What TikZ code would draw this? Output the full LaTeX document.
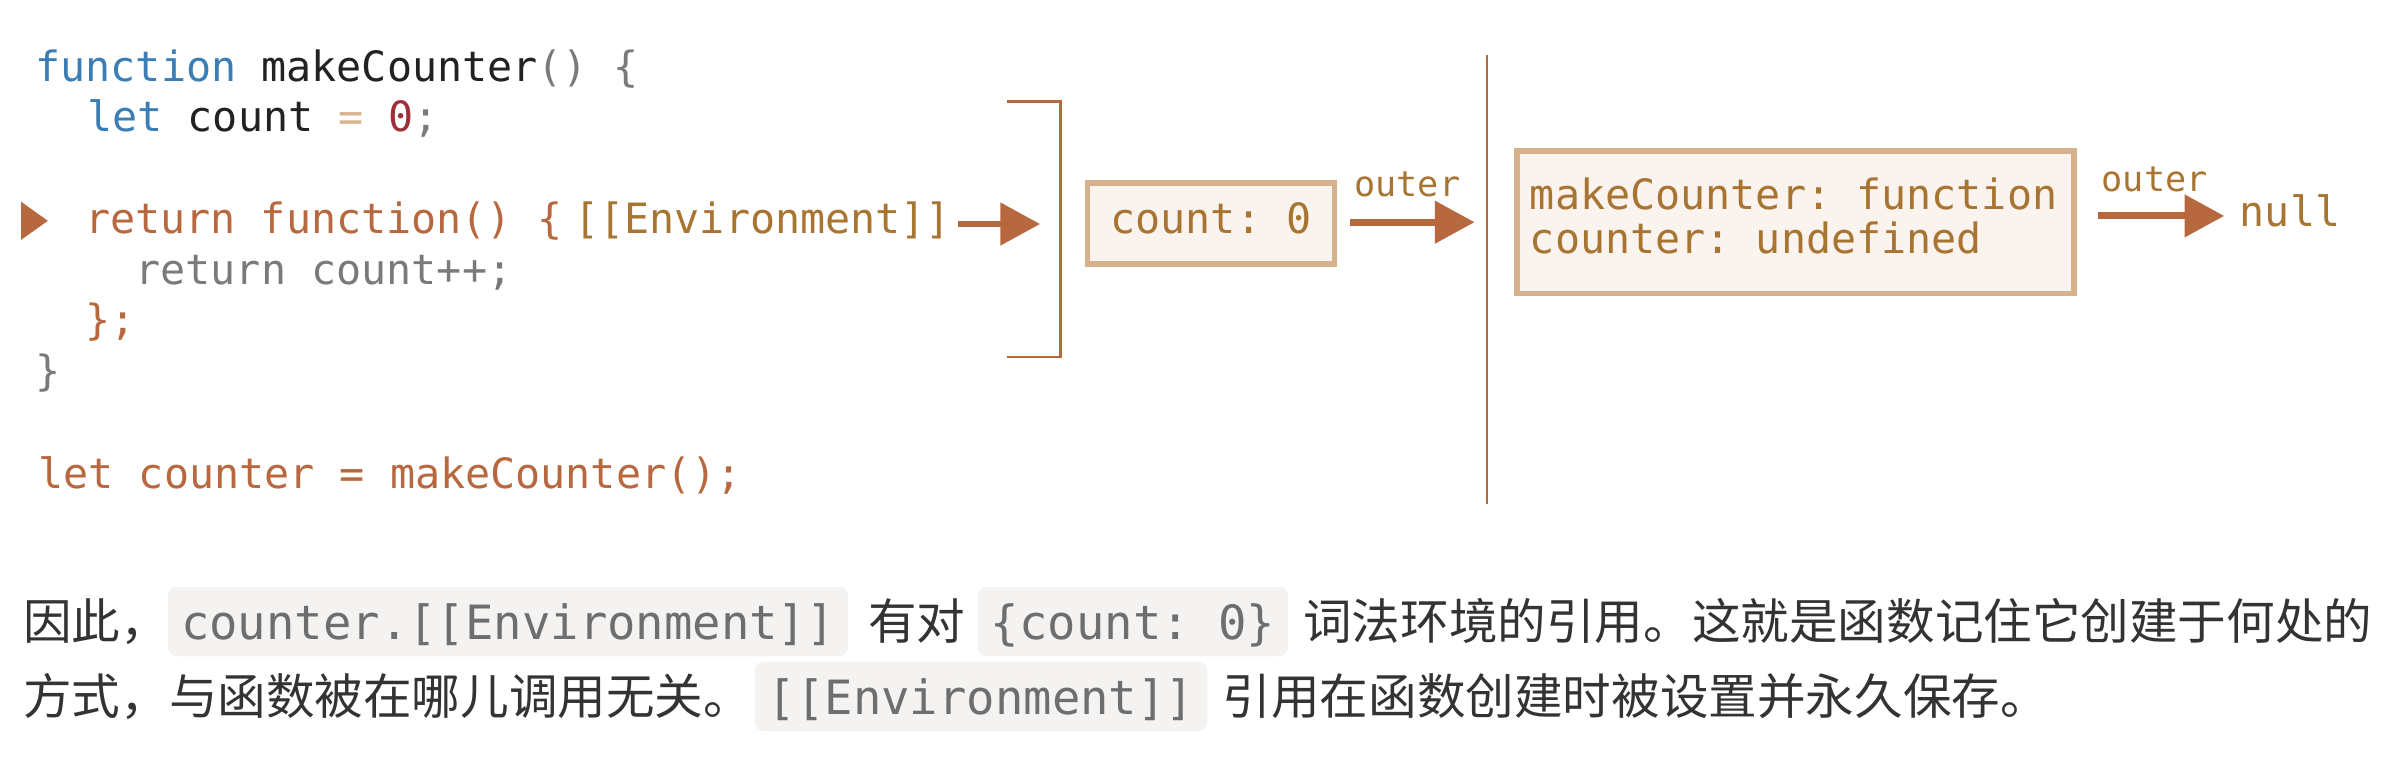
\documentclass[tikz,border=0pt]{standalone}
\usepackage{fontspec}
\setmonofont{DejaVu Sans Mono}
\newfontfamily\cjkfont{Noto Sans CJK SC}
\usetikzlibrary{arrows.meta}
\definecolor{kwblue}{HTML}{3B7EB5}
\definecolor{codebrown}{HTML}{B8683E}
\definecolor{envgold}{HTML}{A87431}
\definecolor{boxtan}{HTML}{D5B18E}
\definecolor{boxfill}{HTML}{FAF3EE}
\definecolor{numred}{HTML}{9E2F38}
\definecolor{opertan}{HTML}{D8B48E}
\definecolor{codegray}{HTML}{7A7A7A}
\definecolor{codeblack}{HTML}{222222}
\definecolor{textgray}{HTML}{333333}
\definecolor{inlinebg}{HTML}{F4F3F1}
\definecolor{inlinefg}{HTML}{6E6E6E}
\tikzset{
  codeline/.style={anchor=base west, inner sep=0pt, text=codeblack, font=\ttfamily\fontsize{27.3}{33}\selectfont},
  envbox/.style={draw=boxtan, fill=boxfill, line width=3.5pt, inner sep=0pt, text=envgold, font=\ttfamily\fontsize{27.3}{33}\selectfont},
  fatarrow/.style={draw=codebrown, line width=4.5pt, -{Triangle[length=26pt,width=27pt]}},
  scopeline/.style={draw=codebrown, line width=1.5pt},
  outerlabel/.style={anchor=base, inner sep=0pt, text=envgold, font=\ttfamily\fontsize{23}{28}\selectfont},
  parcjk/.style={anchor=base west, inner sep=0pt, text=textgray, font=\cjkfont\fontsize{31.8}{40}\selectfont},
  inlinecode/.style={anchor=base west, fill=inlinebg, rounded corners=6pt, outer sep=0pt, inner xsep=8.5pt, inner ysep=4pt, text height=30.8pt, text depth=6.7pt, text=inlinefg, font=\ttfamily\fontsize{30.9}{36}\selectfont}
}
\begin{document}
\begin{tikzpicture}[x=1pt,y=-1pt]
\useasboundingbox (0,0) rectangle (1568,496);
% code
\node[codeline] (l1) at (23,53.5) {\textcolor{kwblue}{function} makeCounter\textcolor{codegray}{() \{}};
\node[codeline] (l2) at (57,86.2) {\textcolor{kwblue}{let} count \textcolor{opertan}{=} \textcolor{numred}{0}\textcolor{codegray}{;}};
\fill[codebrown] (13.8,132) -- (31.3,144.5) -- (13.8,157) -- cycle;
\node[codeline, text=codebrown] (l3) at (55.5,152.6) {return function() \{};
\node[codeline, text=envgold] (env) at (375.7,152.6) {[[Environment]]};
\node[codeline, text=codegray] (l4) at (88.5,186.5) {return count++;};
\node[codeline, text=codebrown] (l5) at (56,219) {\};};
\node[codeline, text=codegray] (l6) at (23,252) {\}};
\node[codeline, text=codebrown] (l7) at (25,319.5) {let counter = makeCounter();};
% scopes
\draw[scopeline] (659,66.5) -- (694,66.5) -- (694,233.4) -- (659,233.4);
\draw[scopeline] (973,36) -- (973,330);
\coordinate (envtip) at (680.7,146.6);
\draw[fatarrow, shorten <=4pt] (env.east |- envtip) -- (envtip);
% lexical environments
\node[envbox, minimum width=161.5pt, minimum height=53pt, text height=13.5pt, text depth=0pt] (countbox) at (792.5,146.25) {count: 0};
\coordinate (countout) at (965,145.4);
\draw[fatarrow, shorten <=8.7pt] (countbox.east |- countout) -- (countout);
\node[outerlabel] (outer1) at (921,128.7) {outer};
\node[envbox, minimum width=364.5pt, minimum height=93.5pt] (globalbox) at (1175,145.5) {};
\node[codeline, text=envgold] (g1) at (1001,137.4) {makeCounter: function};
\node[codeline, text=envgold] (g2) at (1001,166.2) {counter: undefined};
\coordinate (globalout) at (1455.6,141.3);
\draw[fatarrow, shorten <=14pt] (globalbox.east |- globalout) -- (globalout);
\node[outerlabel] (outer2) at (1410,125.4) {outer};
\node[codeline, text=envgold] (nullv) at (1465.6,148.3) {null};
% text below
\node[parcjk] (p1) at (15,418.8) {因此，};
\node[inlinecode] (c1) at (110,418.8) {counter.[[Environment]]};
\node[parcjk] (p2) at (568,418.8) {有对};
\node[inlinecode] (c2) at (640,418.8) {\{count: 0\}};
\node[parcjk] (p3) at (852.7,418.8) {词法环境的引用。这就是函数记住它创建于何处的};
\node[parcjk] (p4) at (15,467.8) {方式，与函数被在哪儿调用无关。};
\node[inlinecode] (c3) at (494,467.8) {[[Environment]]};
\node[parcjk] (p5) at (800,467.8) {引用在函数创建时被设置并永久保存。};
\end{tikzpicture}
\end{document}
